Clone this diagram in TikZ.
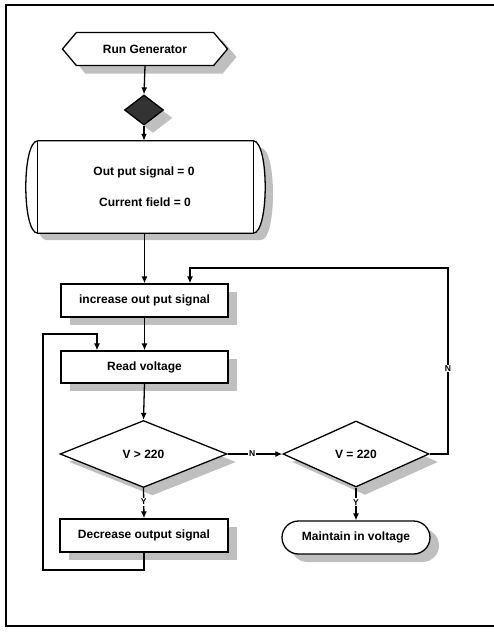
\documentclass[tikz,border=0pt]{standalone}
\usepackage{fontspec}
\setmainfont{Liberation Sans}
\usetikzlibrary{shapes.geometric,shapes.symbols,shapes.misc,shadows,arrows.meta}
\tikzset{
  base/.style={draw, line width=1.3pt, fill=white, inner sep=0pt,
    font=\fontsize{12}{14}\selectfont\bfseries,
    drop shadow={shadow xshift=9pt, shadow yshift=-8pt, fill=gray!50, opacity=1}},
  procbox/.style={base, rectangle, minimum width=167pt, minimum height=33pt},
  hexbox/.style={base, signal, signal to=west and east, signal pointer angle=100,
    minimum width=165pt, minimum height=33pt},
  decbox/.style={base, diamond, minimum width=167pt, minimum height=67pt},
  termbox/.style={base, rounded rectangle, minimum width=148pt, minimum height=33pt},
  arr/.style={line width=1.3pt, -{Latex[length=7pt,width=6pt]}},
  ln/.style={line width=1.3pt},
  lab/.style={fill=white, inner sep=1pt, font=\fontsize{8.5}{9}\selectfont\bfseries},
  txt/.style={font=\fontsize{12}{14}\selectfont\bfseries}
}
\begin{document}
\begin{tikzpicture}[x=1pt,y=-1pt]
\useasboundingbox (0,0) rectangle (494,633);
% frame
\draw[line width=1.6pt] (494,5) -- (6,5) -- (6,626) -- (494,626);

% nodes
\node[hexbox] (run) at (145,49) {Run Generator};
\node[base, diamond, minimum width=39pt, minimum height=30pt, fill=black!80] (dia) at (144,110) {};

% stored data shape
\fill[gray!50] (46,148) -- (261,148) .. controls (277,148) and (277,240) .. (261,240)
   -- (46,240) .. controls (30,240) and (30,148) .. (46,148) -- cycle;
\node[rectangle, minimum width=215pt, minimum height=92pt, inner sep=0pt] (init) at (145.5,187) {};
\filldraw[ln, fill=white] (init.north west) -- (init.north east)
   .. controls +(16,0) and ([xshift=16pt]init.south east) .. (init.south east)
   -- (init.south west)
   .. controls +(-16,0) and ([xshift=-16pt]init.north west) .. (init.north west) -- cycle;
\draw[ln] (init.north west) -- (init.south west);
\draw[ln] (init.north east) -- (init.south east);
\node[txt] (t1) at (144,172) {Out put signal = 0};
\node[txt] (t2) at (145,202) {Current field = 0};

\node[procbox] (inc) at (144.5,300.5) {increase out put signal};
\node[procbox, minimum height=32pt] (read) at (144.5,367) {Read voltage};
\node[decbox] (dec1) at (143.5,454) {V > 220};
\node[procbox, minimum width=168pt] (dec) at (144,535.5) {Decrease output signal};
\node[decbox, minimum width=146pt, minimum height=66pt] (dec2) at (356,454) {V = 220};
\node[termbox] (maint) at (356,537.5) {Maintain in voltage};

% helper coordinates
\coordinate (lp1) at (43,570);
\coordinate (lp2) at (43,334);
\coordinate (rin) at ([xshift=-47.5pt]read.north);
\coordinate (r1) at (448,268);
\coordinate (iin) at ([xshift=45.5pt]inc.north);

% connectors
\draw[arr] (run.south) -- (dia.north);
\draw[arr] (dia.south) -- (dia.south |- init.north);
\draw[arr] (inc.north |- init.south) -- (inc.north);
\draw[arr] (inc.south) -- (read.north);
\draw[arr] (read.south) -- (dec1.north);
\draw[arr] (dec1.south) -- node[lab, pos=0.45] {Y} (dec.north);
\draw[arr] (dec.south) |- (lp1) -- (lp2) -| (rin);
\draw[arr] (dec1.east) -- node[lab, pos=0.45] {N} (dec2.west);
\draw[arr] (dec2.east) -| node[lab, pos=0.73] {N} (r1) -| (iin);
\draw[arr] (dec2.south) -- node[lab, pos=0.45] {Y} (maint.north);
\end{tikzpicture}
\end{document}
